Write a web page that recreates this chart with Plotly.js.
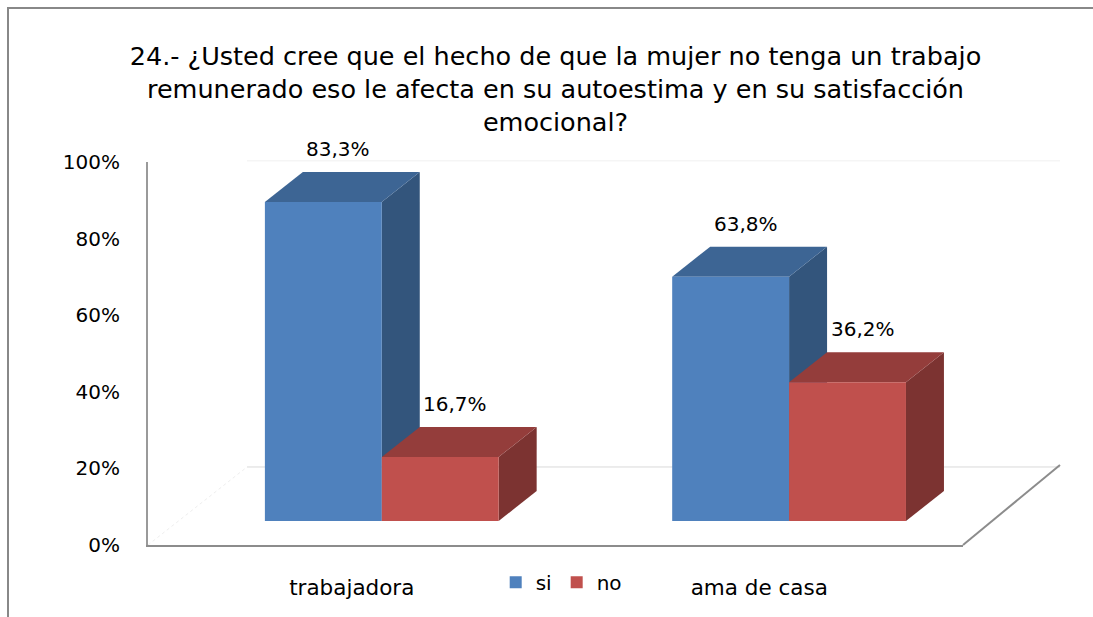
<!DOCTYPE html>
<html>
<head>
<meta charset="utf-8">
<script src="https://cdn.plot.ly/plotly-3.0.1.min.js"></script>
<style>
html,body{margin:0;padding:0;background:#fff;}
#chart{width:1093px;height:617px;}
</style>
</head>
<body>
<div id="chart"></div>
<script>
// ---- data ----
const categories = ["trabajadora", "ama de casa"];
const seriesNames = ["si", "no"];
const siValues = [0.833, 0.638];
const noValues = [0.167, 0.362];
const yTickVals = [0, 0.2, 0.4, 0.6, 0.8, 1.0];
const titleText = "24.- ¿Usted cree que el hecho de que la mujer no tenga un trabajo<br>remunerado eso le afecta en su autoestima y en su satisfacción<br>emocional?";

// ---- style ----
const FONT = "DejaVu Sans, sans-serif";
const frontColors = ["#4F81BD", "#C0504D"];
const topColors = ["#3D6594", "#943D3B"];
const sideColors = ["#33557C", "#7C3331"];
const W = 0.287;          // bar width in x2 units
const DX = 38 / 407.5;    // depth offset (x2 units)
const DY = 30 / 383;      // depth offset (y2 units)
const FLOOR = 24 / 383;   // front-face baseline lift (y units)
const catIdx = categories.map((c, i) => i);
const allSeries = [siValues, noValues];

const traces = [
  {x: [], y: [], xaxis: 'x', yaxis: 'y', showlegend: false, hoverinfo: 'skip', type: 'scatter'}
];
allSeries.forEach((vals, s) => {
  traces.push({
    type: 'bar', name: seriesNames[s], x: catIdx, y: vals,
    xaxis: 'x2', yaxis: 'y2',
    marker: {color: frontColors[s], line: {width: 0}},
    hoverinfo: 'y'
  });
});

const shapes = [];
const annotations = [];
catIdx.forEach((j) => {
  allSeries.forEach((vals, s) => {
    const v = vals[j];
    const xL = j - W + s * W, xR = xL + W;
    shapes.push({type: 'path', xref: 'x2', yref: 'y2', layer: 'below', line: {width: 0},
      fillcolor: sideColors[s],
      path: `M${xR},0 L${xR},${v} L${xR + DX},${v + DY} L${xR + DX},${DY} Z`});
    shapes.push({type: 'path', xref: 'x2', yref: 'y2', layer: 'below', line: {width: 0},
      fillcolor: topColors[s],
      path: `M${xL},${v} L${xR},${v} L${xR + DX},${v + DY} L${xL + DX},${v + DY} Z`});
    annotations.push({xref: 'x2', yref: 'y2', x: (xL + xR) / 2 + 0.037, y: v, yshift: 53,
      text: (v * 100).toFixed(1).replace('.', ',') + '%', showarrow: false,
      font: {family: FONT, size: 20, color: '#000'}, xanchor: 'center', yanchor: 'middle'});
  });
});
// floor decoration (paper coords)
shapes.push({type: 'line', xref: 'paper', yref: 'paper', x0: 0.1215, x1: 1.119, y0: 0.2037, y1: 0.2037, layer: 'below', line: {color: '#D9D9D9', width: 1}});
shapes.push({type: 'line', xref: 'paper', yref: 'paper', x0: 0.1215, x1: 1.119, y0: 1.003, y1: 1.003, layer: 'below', line: {color: '#F0F0F0', width: 1}});
shapes.push({type: 'line', xref: 'paper', yref: 'paper', x0: 0, x1: 0.1215, y0: 0, y1: 0.2037, layer: 'below', line: {color: '#EEEEEE', width: 1, dash: 'dot'}});
shapes.push({type: 'line', xref: 'paper', yref: 'paper', x0: 1, x1: 1.119, y0: 0, y1: 0.209, layer: 'above', line: {color: '#8C8C8C', width: 2}});
// outer border
shapes.push({type: 'path', xref: 'paper', yref: 'paper', layer: 'above', line: {color: '#888888', width: 2},
  path: 'M' + (-140/815) + ',' + (-72/383) + ' L' + (-140/815) + ',' + (537/383) + ' L' + (945/815) + ',' + (537/383)});

const layout = {
  width: 1093, height: 617,
  margin: {l: 148, r: 130, t: 162, b: 72},
  paper_bgcolor: '#fff', plot_bgcolor: 'rgba(0,0,0,0)',
  separators: ',.',
  font: {family: FONT, size: 20, color: '#000'},
  title: {text: titleText, font: {family: FONT, size: 25.5, color: '#000'},
    x: 0.5, xref: 'paper', xanchor: 'center', y: 1 - 65 / 617, yref: 'container', yanchor: 'middle'},
  barmode: 'group', bargap: 0.426, bargroupgap: 0,
  showlegend: true,
  legend: {orientation: 'h', x: 0.507, xanchor: 'center', y: -0.097, yanchor: 'middle',
    font: {family: FONT, size: 20}, itemwidth: 30, tracegroupgap: 0},
  xaxis: {type: 'linear', range: [-0.5, 1.5], tickvals: catIdx, ticktext: categories,
    showgrid: false, zeroline: false, showline: true, linecolor: '#8C8C8C', linewidth: 2,
    ticks: 'outside', ticklen: 22, tickcolor: 'rgba(0,0,0,0)', tickfont: {size: 21.5}, fixedrange: true},
  yaxis: {type: 'linear', range: [0, 1], tickvals: yTickVals, tickformat: '.0%',
    showgrid: false, zeroline: false, showline: true, linecolor: '#9A9A9A', linewidth: 2,
    ticks: 'outside', ticklen: 22, tickcolor: 'rgba(0,0,0,0)', tickfont: {size: 20}, fixedrange: true},
  xaxis2: {type: 'linear', overlaying: 'x', range: [-0.574, 1.427], visible: false, fixedrange: true},
  yaxis2: {type: 'linear', overlaying: 'y', range: [-FLOOR, 1 - FLOOR], visible: false, fixedrange: true},
  shapes: shapes,
  annotations: annotations
};

Plotly.newPlot('chart', traces, layout, {displayModeBar: false, staticPlot: true});
</script>
</body>
</html>
